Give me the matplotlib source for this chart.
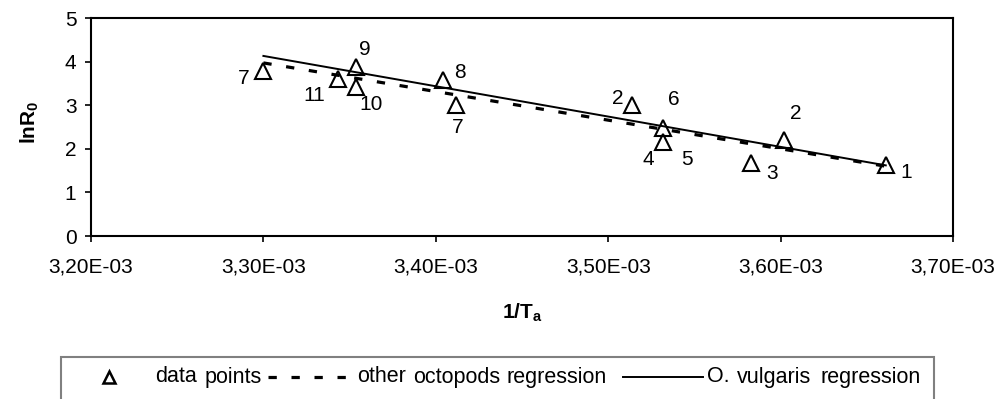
import matplotlib
matplotlib.use("Agg")
import matplotlib.pyplot as plt
from matplotlib.lines import Line2D
from matplotlib.patches import Rectangle
from matplotlib.ticker import FuncFormatter

plt.rcParams['font.family'] = ['Liberation Sans', 'DejaVu Sans']
plt.rcParams['mathtext.fontset'] = 'custom'
plt.rcParams['mathtext.rm'] = 'Liberation Sans'
plt.rcParams['mathtext.bf'] = 'Liberation Sans:bold'
plt.rcParams['mathtext.it'] = 'Liberation Sans:italic'

# ---- data ----
inv_temp = [3.300e-3, 3.343e-3, 3.354e-3, 3.354e-3, 3.404e-3, 3.412e-3,
            3.514e-3, 3.532e-3, 3.532e-3, 3.583e-3, 3.602e-3, 3.661e-3]
ln_r0 = [3.78, 3.60, 3.88, 3.42, 3.58, 3.00,
         3.00, 2.48, 2.16, 1.67, 2.20, 1.63]
point_labels = ['7', '11', '9', '10', '8', '7', '2', '6', '4', '3', '2', '1']
extra_labels = ['5']  # second label for the overlapping point at index 8

reg_x = [3.300e-3, 3.661e-3]
other_octopods = [3.97, 1.60]
o_vulgaris = [4.13, 1.62]

x_ticks = [3.20e-3, 3.30e-3, 3.40e-3, 3.50e-3, 3.60e-3, 3.70e-3]
y_ticks = [0, 1, 2, 3, 4, 5]

legend_words = [['data', 'points'],
                ['other', 'octopods', 'regression'],
                ['O.', 'vulgaris', 'regression']]

# ---- layout (pixels) ----
label_offsets = [(-20, -7), (-23, -16), (8, 17), (15, -18), (17, 7), (1, -22),
                 (-15, 7), (10, 28), (-15, -18), (21, -10), (12, 27), (20, -8)]
extra_offsets = [(24, -18)]
legend_word_x = [[155, 205], [357, 413, 507], [707, 737, 820]]

fig = plt.figure(figsize=(10, 3.99), dpi=100)
ax = fig.add_axes([0.091, 1 - 236 / 399, 0.862, 218 / 399])

ax.plot(reg_x, other_octopods, color='black', lw=2.3, dashes=(2.6, 4.6),
        solid_capstyle='butt', dash_capstyle='butt', zorder=2)
ax.plot(reg_x, o_vulgaris, color='black', lw=1.4, zorder=2)
ax.plot(inv_temp, ln_r0, linestyle='none', marker='^', markersize=11.5,
        markerfacecolor='none', markeredgecolor='black', markeredgewidth=1.5, zorder=3)

for x, y, lab, (dx, dy) in zip(inv_temp, ln_r0, point_labels, label_offsets):
    ax.annotate(lab, (x, y), xytext=(dx, dy), textcoords='offset pixels',
                ha='center', va='center', fontsize=15)
for lab, (dx, dy) in zip(extra_labels, extra_offsets):
    ax.annotate(lab, (inv_temp[8], ln_r0[8]), xytext=(dx, dy), textcoords='offset pixels',
                ha='center', va='center', fontsize=15)

ax.set_xlim(x_ticks[0], x_ticks[-1])
ax.set_ylim(y_ticks[0], y_ticks[-1])
ax.set_xticks(x_ticks)
ax.set_yticks(y_ticks)
ax.xaxis.set_major_formatter(FuncFormatter(
    lambda v, p: f"{v * 1e3:.2f}".replace('.', ',') + "E-03"))
ax.tick_params(axis='both', direction='out', length=4.5, width=1.2, labelsize=15,
               color='black')
ax.tick_params(axis='x', pad=11)
ax.tick_params(axis='y', pad=6)
for s in ax.spines.values():
    s.set_linewidth(1.5)
    s.set_color('black')

ax.set_xlabel(r'$\mathbf{1/T_a}$', fontsize=15)
ax.xaxis.set_label_coords(0.5, -0.30)
ax.set_ylabel(r'$\mathbf{lnR_0}$', fontsize=15)
ax.yaxis.set_label_coords(-0.058, 0.52)

# ---- legend (drawn manually, box partly outside the figure as in reference) ----
W, H = 1000.0, 399.0
def fx(px):
    return px / W
def fy(py):
    return 1 - py / H

fig.add_artist(Rectangle((fx(61), fy(430)), fx(934) - fx(61), fy(357) - fy(430),
                         transform=fig.transFigure, facecolor='white',
                         edgecolor='#808080', lw=1.5, clip_on=False))
ly = fy(377)
fig.add_artist(Line2D([fx(109)], [ly], transform=fig.transFigure, marker='^',
                      markersize=8.5, markerfacecolor='none', markeredgecolor='black',
                      markeredgewidth=1.8, linestyle='none'))
fig.add_artist(Line2D([fx(268), fx(350)], [ly, ly], transform=fig.transFigure,
                      color='black', lw=2.3, dashes=(2.6, 4.6)))
fig.add_artist(Line2D([fx(623), fx(703)], [ly, ly], transform=fig.transFigure,
                      color='black', lw=1.4))
for words, xs in zip(legend_words, legend_word_x):
    for w, px in zip(words, xs):
        fig.text(fx(px), ly, w, fontsize=15.5, va='center', ha='left')

fig.savefig('out.png', dpi=100)
